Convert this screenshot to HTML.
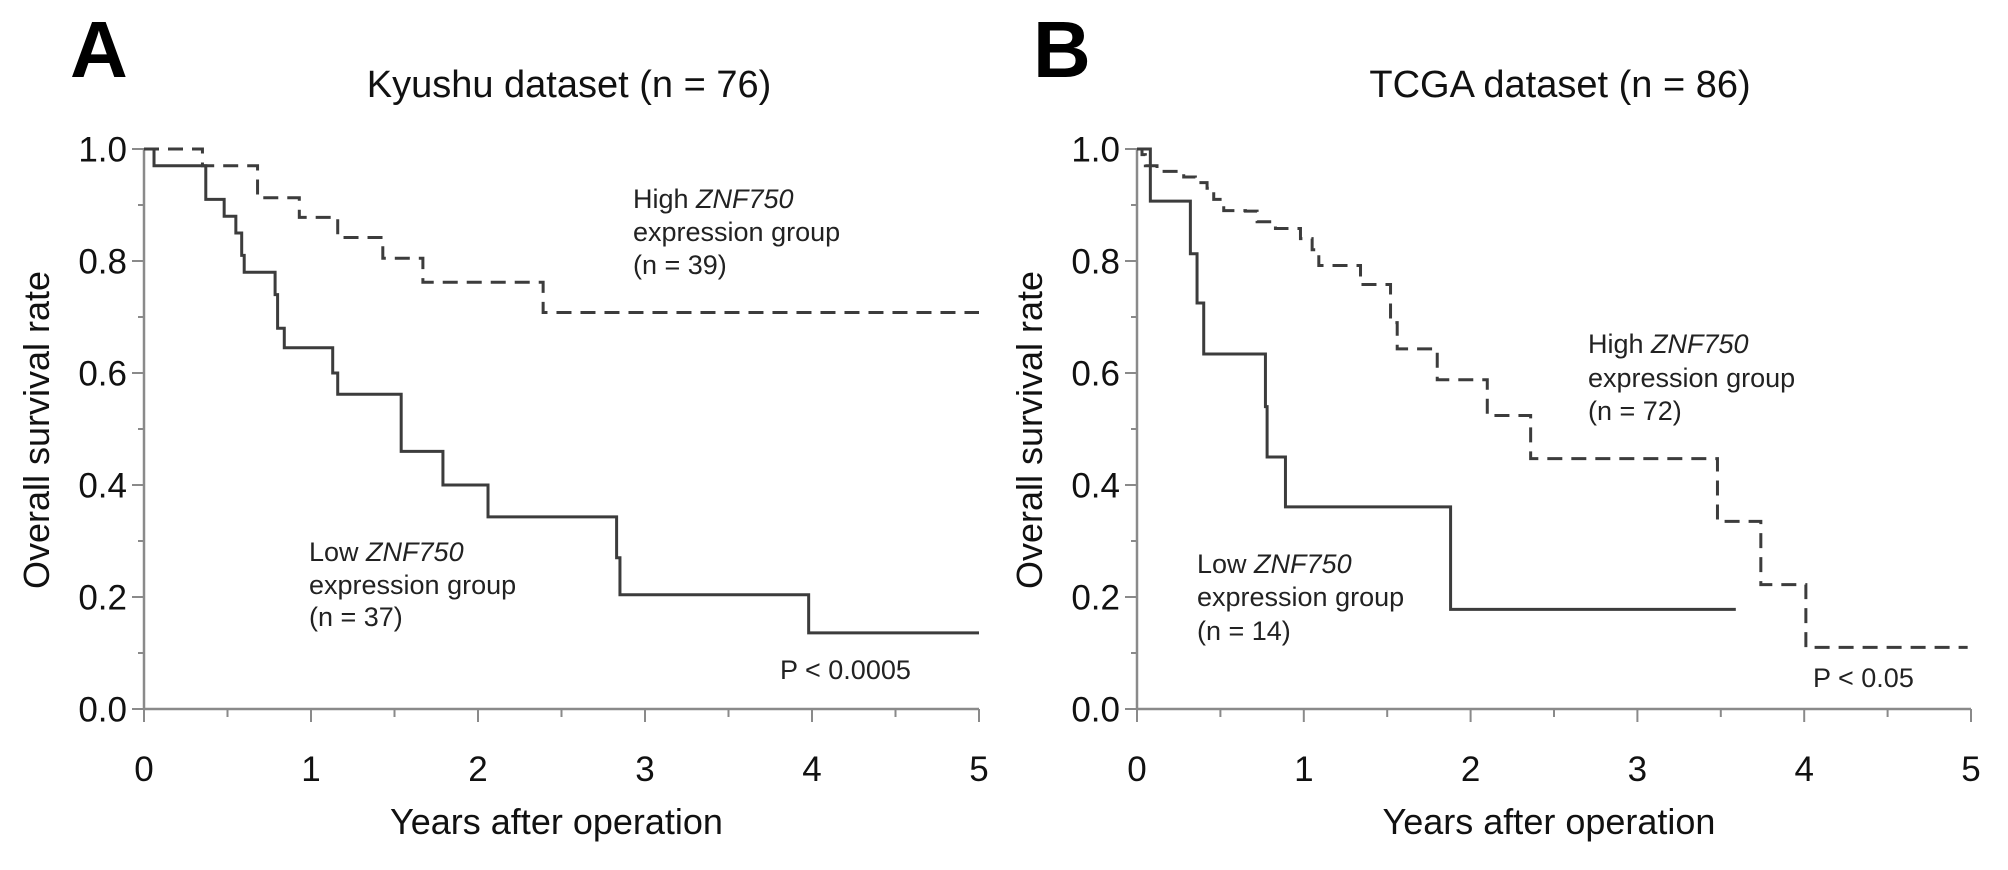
<!DOCTYPE html>
<html><head><meta charset="utf-8"><style>
html,body{margin:0;padding:0;background:#fff;}
svg{display:block;font-family:"Liberation Sans",Arial,sans-serif;}
</style></head><body>
<svg id="chart" width="2008" height="870" viewBox="0 0 2008 870" xmlns="http://www.w3.org/2000/svg"></svg>
<script>
// Data arrays (times in years, survival values)
const xTicks = [0,1,2,3,4,5];
const yTicks = [0.0,0.2,0.4,0.6,0.8,1.0];
const yTickLabels = ["0.0","0.2","0.4","0.6","0.8","1.0"];
const lowA_t = [0.06,0.37,0.48,0.55,0.585,0.60,0.785,0.80,0.84,1.13,1.16,1.54,1.79,2.06,2.83,2.85,3.98];
const lowA_s = [0.97,0.91,0.88,0.85,0.81,0.78,0.74,0.68,0.645,0.60,0.562,0.46,0.40,0.343,0.27,0.204,0.136];
const lowA_end = 5.0;
const highA_t = [0.35,0.68,0.93,1.16,1.43,1.67,2.39];
const highA_s = [0.97,0.913,0.878,0.842,0.805,0.762,0.708];
const highA_end = 5.0;
const lowB_t = [0.08,0.32,0.36,0.40,0.77,0.78,0.89,1.88];
const lowB_s = [0.907,0.813,0.725,0.634,0.54,0.45,0.361,0.178];
const lowB_end = 3.59;
const highB_t = [0.03,0.05,0.12,0.28,0.35,0.42,0.46,0.52,0.65,0.72,0.83,0.98,1.05,1.09,1.34,1.52,1.56,1.80,2.10,2.36,3.48,3.74,4.01];
const highB_s = [0.99,0.97,0.96,0.95,0.94,0.93,0.91,0.89,0.889,0.87,0.858,0.84,0.82,0.792,0.758,0.69,0.643,0.588,0.524,0.447,0.335,0.222,0.11];
const highB_end = 4.98;

const NS="http://www.w3.org/2000/svg";
const svg=document.getElementById('chart');
function mk(tag,attrs,parent){const e=document.createElementNS(NS,tag);for(const k in attrs)e.setAttribute(k,attrs[k]);(parent||svg).appendChild(e);return e;}

function panel(cfg){
  const g=mk('g',{});
  
  
  const x0=cfg.x0,x1=cfg.x1,y0=709,y1=149;
  const X=t=>x0+(x1-x0)*t/5;
  const Y=v=>y0-(y0-y1)*v;
  const axc='#8a8a8a';
  const L=mk('text',{x:cfg.letterX,y:77,'font-size':80,'font-weight':'bold',fill:'#000'},g);L.textContent=cfg.letter;
  
  
  const T=mk('text',{x:cfg.titleX,y:97,'font-size':38,'text-anchor':'middle',fill:'#111'},g);T.textContent=cfg.title;
  
  
  const ax=mk('line',{x1:x0,y1:y0,x2:x1,y2:y0,stroke:axc,'stroke-width':2.5},g);
  
  
  const ay=mk('line',{x1:x0,y1:y0,x2:x0,y2:y1,stroke:axc,'stroke-width':2.5},g);
  
  
  for(let i=0;i<=10;i++){const t=i*0.5;const len=(i%2==0)?13:8;
    const tk=mk('line',{x1:X(t),y1:y0,x2:X(t),y2:y0+len,stroke:axc,'stroke-width':2},g);
    
    }
  for(let i=0;i<=10;i++){const v=i*0.1;const len=(i%2==0)?12:6;
    const tk=mk('line',{x1:x0-len,y1:Y(v),x2:x0,y2:Y(v),stroke:axc,'stroke-width':2},g);
    
    }
  xTicks.forEach(t=>{const e=mk('text',{x:X(t),y:781,'font-size':35,'text-anchor':'middle',fill:'#111'},g);e.textContent=t;
    
    });
  yTicks.forEach((v,i)=>{const e=mk('text',{x:x0-17,y:Y(v)+12.5,'font-size':35,'text-anchor':'end',fill:'#111'},g);e.textContent=yTickLabels[i];
    
    });
  const xt=mk('text',{x:(x0+x1)/2-5,y:834,'font-size':36,'text-anchor':'middle',fill:'#111'},g);xt.textContent='Years after operation';
  
  
  const yt=mk('text',{x:0,y:0,'font-size':36,'text-anchor':'middle',fill:'#111',transform:`translate(${cfg.yTitleX+12},430) rotate(-90)`},g);yt.textContent='Overall survival rate';
  
  
  function step(ts,ss,end,dash,name){
    let d=`M${X(0)},${Y(1)}`;let cur=1;
    ts.forEach((t,i)=>{d+=` L${X(t)},${Y(cur)} L${X(t)},${Y(ss[i])}`;cur=ss[i];});
    d+=` L${X(end)},${Y(cur)}`;
    const p=mk('path',{d:d,fill:'none',stroke:'#3c3c3c','stroke-width':3,'stroke-dasharray':dash?'15 9':'none'},g);
    
    
  }
  step(cfg.hiT,cfg.hiS,cfg.hiEnd,true,'high-expression-curve');
  step(cfg.loT,cfg.loS,cfg.loEnd,false,'low-expression-curve');
  function label(x,ys,lines,name){
    const t=mk('text',{x:x,'font-size':27,fill:'#222'},g);
    
    
    lines.forEach((ln,i)=>{const ts=mk('tspan',{x:x,y:ys[i]},t);
      if(Array.isArray(ln)){ts.appendChild(document.createTextNode(ln[0]));const it=mk('tspan',{'font-style':'italic'},ts);it.textContent=ln[1];}
      else ts.textContent=ln;});
  }
  label(cfg.hiX,cfg.hiY,[["High ","ZNF750"],"expression group",cfg.hiN],'high-group-label');
  label(cfg.loX,cfg.loY,[["Low ","ZNF750"],"expression group",cfg.loN],'low-group-label');
  const pv=mk('text',{x:cfg.pX,y:cfg.pY,'font-size':27,fill:'#222'},g);pv.textContent=cfg.p;
  
  
}
panel({id:'kyushu',letter:'A',letterX:70,x0:144,x1:979,title:'Kyushu dataset (n = 76)',titleX:569,yTitleX:37,
  hiT:highA_t,hiS:highA_s,hiEnd:highA_end,loT:lowA_t,loS:lowA_s,loEnd:lowA_end,
  hiX:633,hiY:[208,241,274],hiN:'(n = 39)',loX:309,loY:[561,594,626],loN:'(n = 37)',pX:780,pY:679,p:'P < 0.0005'});
panel({id:'tcga',letter:'B',letterX:1033,x0:1137,x1:1971,title:'TCGA dataset (n = 86)',titleX:1560,yTitleX:1030,
  hiT:highB_t,hiS:highB_s,hiEnd:highB_end,loT:lowB_t,loS:lowB_s,loEnd:lowB_end,
  hiX:1588,hiY:[353,387,420],hiN:'(n = 72)',loX:1197,loY:[573,606,640],loN:'(n = 14)',pX:1813,pY:687,p:'P < 0.05'});
</script>
</body></html>
